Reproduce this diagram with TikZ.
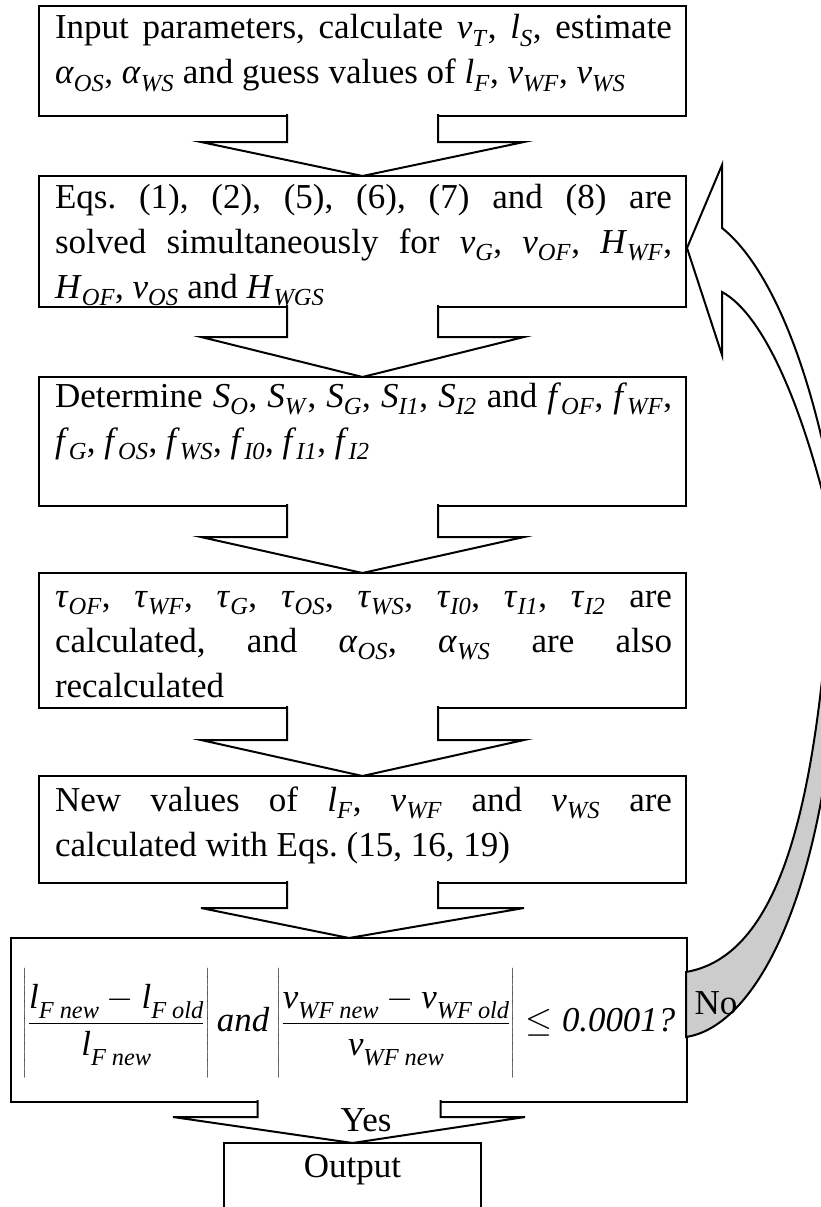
\documentclass[tikz,border=0pt]{standalone}
\usepackage{fontspec}
\setmainfont{Liberation Serif}
\usepackage{tikz}
\usetikzlibrary{calc}

\definecolor{backgray}{RGB}{204,204,204}
\newcommand{\sym}[2]{\textit{#1}\textsubscript{\textit{#2}}}
\newcommand{\fsym}[2]{\mbox{\textit{#1}\raisebox{-0.3em}{\fontsize{17.4}{18}\selectfont\textit{#2}}}}
\newcommand{\tallbar}{\rule[-33pt]{0pt}{79pt}}
% hollow block arrow from the bottom of one box to the top of the next
\newcommand{\blockdown}[5]{%
  \draw[flow] ($(#1.south)+(-#3,-2)$) -- ($(#1.south)+(-#3,#5)$) -- ($(#1.south)+(-#4,#5)$)
    -- (#2.north) -- ($(#1.south)+(#4,#5)$) -- ($(#1.south)+(#3,#5)$) -- ($(#1.south)+(#3,-2)$);}

\tikzset{
  stepbox/.style={draw, line width=2pt, fill=white, inner sep=0pt, outer sep=0pt},
  steptext/.style={inner sep=0pt, outer sep=0pt, anchor=north west, text width=617pt,
    align=justify, font=\fontsize{35}{45}\selectfont\frenchspacing, execute at begin node=\rule{0pt}{30pt}},
  flow/.style={line width=2pt, fill=white, line join=miter},
  tag/.style={inner sep=0pt, font=\fontsize{35}{42}\selectfont},
}

\begin{document}
\begin{tikzpicture}[x=1pt, y=-1pt]
  \useasboundingbox (0,0) rectangle (821,1207);
  \clip (0,0) rectangle (821,1207);

  % boxes
  \node[stepbox, minimum width=647, minimum height=110] (b1) at (362.5,61) {};
  \node[stepbox, minimum width=647, minimum height=131] (b2) at (362.5,241.5) {};
  \node[stepbox, minimum width=647, minimum height=129] (b3) at (362.5,441.5) {};
  \node[stepbox, minimum width=647, minimum height=135] (b4) at (362.5,640.5) {};
  \node[stepbox, minimum width=647, minimum height=107] (b5) at (362.5,829.5) {};
  \node[stepbox, minimum width=676, minimum height=164] (b6) at (349,1020) {};
  \node[stepbox, minimum width=257, minimum height=97] (out) at (352.5,1191.5) {};

  % texts
  \node[steptext] (t1) at ($(b1.north west)+(16,3)$) {Input parameters, calculate \sym{v}{T}, \sym{l}{S}, estimate\linebreak
    \sym{α}{OS}, \sym{α}{WS} and guess values of \sym{l}{F}, \sym{v}{WF}, \sym{v}{WS}};
  \node[steptext] (t2) at ($(b2.north west)+(16,2)$) {Eqs. (1), (2), (5), (6), (7) and (8) are\linebreak
    solved simultaneously for \sym{v}{G}, \sym{v}{OF}, \sym{H}{WF},\linebreak
    \sym{H}{OF}, \sym{v}{OS} and \sym{H}{WGS}};
  \node[steptext] (t3) at ($(b3.north west)+(16,0)$) {Determine \sym{S}{O}, \sym{S}{W}, \sym{S}{G}, \sym{S}{I1}, \sym{S}{I2} and \sym{f}{OF}, \sym{f}{WF},\linebreak
    \sym{f}{G}, \sym{f}{OS}, \sym{f}{WS}, \sym{f}{I0}, \sym{f}{I1}, \sym{f}{I2}};
  \node[steptext] (t4) at ($(b4.north west)+(16,4)$) {\sym{τ}{OF}, \sym{τ}{WF}, \sym{τ}{G}, \sym{τ}{OS}, \sym{τ}{WS}, \sym{τ}{I0}, \sym{τ}{I1}, \sym{τ}{I2} are\linebreak
    calculated, and \sym{α}{OS}, \sym{α}{WS} are also\linebreak recalculated};
  \node[steptext] (t5) at ($(b5.north west)+(16,5)$) {New values of \sym{l}{F}, \sym{v}{WF} and \sym{v}{WS} are\linebreak
    calculated with Eqs. (15, 16, 19)};
  \node[inner sep=0pt, font=\fontsize{24.88}{30}\selectfont] (crit) at ($(b6.center)+(0,2.5)$) {\scalebox{1.4}{$\displaystyle
    \left|\tallbar\frac{\fsym{l}{F new}-\fsym{l}{F old}}{\fsym{l}{F new}}\right|\kern1pt\textit{and}\kern1pt
    \left|\tallbar\frac{\fsym{v}{WF new}-\fsym{v}{WF old}}{\fsym{v}{WF new}}\right|\le\textit{0.0001?}$}};

  % arrows between the steps
  \blockdown{b1}{b2}{75.5}{161.5}{26}
  \blockdown{b2}{b3}{75.5}{161.5}{30}
  \blockdown{b3}{b4}{75.5}{161.5}{31}
  \blockdown{b4}{b5}{75.5}{161.5}{32}
  \blockdown{b5}{b6}{75.5}{161.5}{25}
  \blockdown{b6}{out}{91.5}{176}{15}

  % loop back when not converged
  \coordinate (tip) at ($(b2.east)+(1,6.5)$);
  \coordinate (tailtop) at ($(b6.east)+(-1,-48)$);
  \coordinate (tailbot) at ($(b6.east)+(-1,17)$);
  \draw[flow] (722,228) .. controls (775,270) and (830,400) .. (850,620)
    .. controls (815,420) and (765,315) .. (722,292) -- (722,355) -- (tip) -- (722,165) -- cycle;
  \draw[flow, fill=backgray] (tailtop) .. controls (785,955) and (818,790) .. (832,560)
    -- (840,560) .. controls (842,860) and (765,1025) .. (tailbot) -- cycle;

  \node[tag] (yes) at (366,1120) {Yes};
  \node[tag] (no) at (716,1003) {No};
  \node[tag] (outtxt) at ($(out.north)+(0,27)$) {Output};
\end{tikzpicture}
\end{document}
